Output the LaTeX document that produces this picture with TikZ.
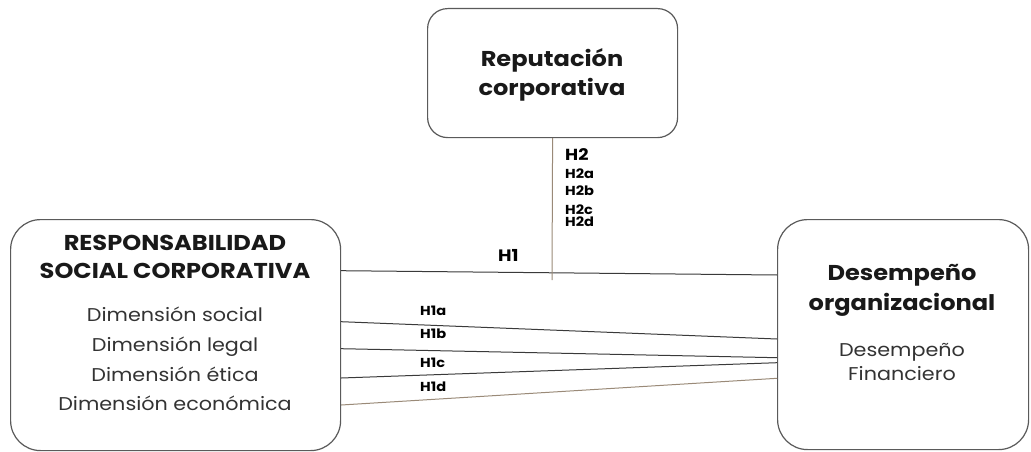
\documentclass[tikz,border=0pt]{standalone}
\usepackage{fontspec}
\setmainfont{Poppins}[FakeStretch=1.12]
\usetikzlibrary{calc}
\definecolor{boxgray}{HTML}{5A5A5A}
\definecolor{linegray}{HTML}{3A3A3A}
\definecolor{brownln}{HTML}{9A8A78}
\definecolor{txtgray}{HTML}{333333}
\begin{document}
\begin{tikzpicture}[x=1pt,y=-1pt,
  box/.style={draw=boxgray, line width=1.2pt, anchor=north west, inner sep=0pt},
  ln/.style={draw=linegray, line width=1pt},
  brn/.style={draw=brownln, line width=1pt},
  hlab/.style={font=\bfseries\fontsize{13}{13}\selectfont, anchor=west, inner sep=0pt, text=black},
  title/.style={font=\bfseries\fontsize{21.5}{29}\selectfont, align=center, text=black!90, inner sep=0pt},
  dim/.style={font=\fontsize{18.5}{20}\selectfont, text=txtgray, inner sep=0pt, anchor=base}]
\useasboundingbox (0,0) rectangle (1031,452);
% boxes
\node[box, rounded corners=20pt, minimum width=250, minimum height=129] (rep) at (427,8) {};
\node[box, rounded corners=30pt, minimum width=330, minimum height=231] (rsc) at (10,219) {};
\node[box, rounded corners=30pt, minimum width=251, minimum height=230] (dor) at (777,219) {};
% texts
\node[title] (reptxt) at (552,75) {Reputación\\corporativa};
\node[title, font=\bfseries\fontsize{21.5}{28}\selectfont] (rsctxt) at (175,257) {RESPONSABILIDAD\\SOCIAL CORPORATIVA};
\node[dim] (d1) at (175,321) {Dimensión social};
\node[dim] (d2) at (175,351) {Dimensión legal};
\node[dim] (d3) at (175,381) {Dimensión ética};
\node[dim] (d4) at (175,410.5) {Dimensión económica};
\node[title, font=\bfseries\fontsize{21.5}{30}\selectfont] (dortxt) at (902,290) {Desempeño\\organizacional};
\node[dim, anchor=center, align=center, font=\fontsize{18.5}{24}\selectfont] (dorsub) at (902,362) {Desempeño\\Financiero};
% connector end points
\coordinate (l0) at ($(rsc.north east)+(0,51.7)$);
\coordinate (r0) at ($(dor.north west)+(0,56)$);
\coordinate (l1) at ($(rsc.north east)+(0,102.7)$);
\coordinate (r1) at ($(dor.north west)+(0,120)$);
\coordinate (l2) at ($(rsc.north east)+(0,129.7)$);
\coordinate (r2) at ($(dor.north west)+(0,138.7)$);
\coordinate (l3) at ($(rsc.north east)+(0,159)$);
\coordinate (r3) at ($(dor.north west)+(0,143.7)$);
\coordinate (l4) at ($(rsc.north east)+(0,186)$);
\coordinate (r4) at ($(dor.north west)+(0,159.3)$);
\coordinate (vend) at (552,280);
% connectors
\draw[ln] (l0) -- (r0);
\draw[ln] (l1) -- (r1);
\draw[ln] (l2) -- (r2);
\draw[ln] (l3) -- (r3);
\draw[brn] (l4) -- (r4);
\draw[brn] (rep.south) -- (vend);
% labels
\node[hlab, font=\bfseries\fontsize{16.5}{16}\selectfont] (h1) at (498,255) {H1};
\node[hlab, font=\bfseries\fontsize{16}{16}\selectfont] (h2) at (565,155) {H2};
\node[hlab] (h2a) at (565,174) {H2a};
\node[hlab] (h2b) at (565,191) {H2b};
\node[hlab] (h2c) at (565,210) {H2c};
\node[hlab] (h2d) at (565,222) {H2d};
\node[hlab] (h1a) at (420,311) {H1a};
\node[hlab] (h1b) at (420,334) {H1b};
\node[hlab] (h1c) at (420,363) {H1c};
\node[hlab] (h1d) at (420,387) {H1d};
\end{tikzpicture}
\end{document}
